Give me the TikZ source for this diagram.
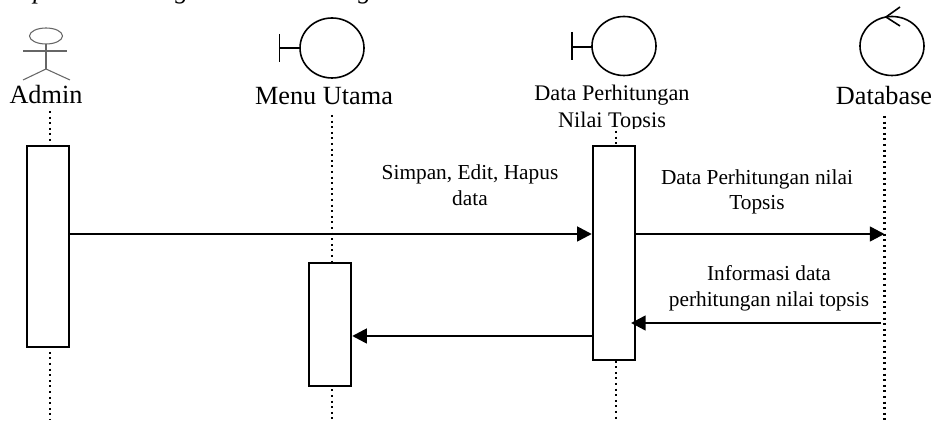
\documentclass[tikz,border=0pt]{standalone}
\usepackage{fontspec}
\setmainfont{Liberation Serif}
\usetikzlibrary{arrows.meta}

\begin{document}
\begin{tikzpicture}[x=0.75pt, y=-0.75pt,
    title/.style = {inner sep=0pt, anchor=base, font=\fontsize{19.7}{23}\selectfont},
    msglabel/.style = {inner sep=0pt, align=center, font=\fontsize{16}{19.3}\selectfont},
    lifeline/.style = {line width=1.6pt, dash pattern=on 1.5pt off 2.7pt},
    bar/.style = {draw, fill=white, line width=1.3pt, minimum width=32pt, inner sep=0pt},
    message/.style = {line width=1.9pt, -{Triangle[length=11pt, width=11pt]}},
    symbol/.style = {line width=1.2pt}]
    \useasboundingbox (0,0) rectangle (936,423);

    % heading cut off by the page edge
    \node (headP) at (40,-1) [anchor=base, inner sep=0pt, font=\fontsize{19.7}{23}\itshape] {p};
    \node (headG) at (182,-1) [anchor=base, inner sep=0pt, font=\fontsize{19.7}{23}\itshape] {g};
    \node (headH) at (365,-1) [anchor=base, inner sep=0pt, font=\fontsize{19.7}{23}\itshape] {g};

    \coordinate (AdminTop) at (50,111);
    \coordinate (AdminEnd) at (50,420);
    \coordinate (MenuTop) at (332,115);
    \coordinate (MenuEnd) at (332,420);
    \coordinate (DataTop) at (616,131);
    \coordinate (DataEnd) at (616,420);
    \coordinate (BaseTop) at (884.5,116);
    \coordinate (BaseEnd) at (884.5,420);

    % actor
    \draw [gray!80!black, line width=0.8pt] (46,36) ellipse (16.5 and 8);
    \draw [gray!80!black, line width=0.8pt] (23,51) -- (67,51);
    \draw [gray!80!black, line width=0.8pt] (46,44) -- (46,69);
    \draw [gray!80!black, line width=0.8pt] (23,80) -- (46,69) -- (70,80);

    % boundary
    \draw [symbol] (332,48) ellipse (32 and 30);
    \draw [symbol] (279.5,34) -- (279.5,62);
    \draw [symbol] (279.5,48) -- (300,48);
    \draw [symbol] (624,46) ellipse (32 and 29.5);
    \draw [symbol] (572,32) -- (572,60);
    \draw [symbol] (572,47) -- (592,47);

    % entity
    \draw [symbol] (892,46) ellipse (32 and 29.5);
    \draw [symbol] (900,7) -- (886,17) -- (900,26);

    \node (AdminName) at (46,104) [title] {Admin};
    \node (MenuName) at (324,105) [title] {Menu Utama};
    \node (BaseName) at (884,105) [title] {Database};
    \node (DataName) at (612,101) [title, font=\fontsize{16.7}{20}\selectfont] {Data Perhitungan};
    \node (DataSub) at (612,128) [title, font=\fontsize{16.7}{20}\selectfont] {Nilai Topsis};
    \fill [white] (560,129.5) rectangle (670,136);

    \draw [lifeline] (AdminTop) -- (AdminEnd);
    \draw [lifeline] (MenuTop) -- (MenuEnd);
    \draw [lifeline] (DataTop) -- (DataEnd);
    \draw [lifeline] (BaseTop) -- (BaseEnd);

    \node (AdminBar) at (48,246.5) [bar, minimum height=150.7pt] {};
    \node (MenuBar) at (330,324.5) [bar, minimum height=92.2pt] {};
    \node (DataBar) at (614,253) [bar, minimum height=160.5pt] {};

    \coordinate (SaveY) at (0,234);
    \coordinate (BackY) at (0,336);

    \draw [message] (AdminBar.east |- SaveY) -- (DataBar.west |- SaveY);
    \draw [message] (DataBar.east |- SaveY) -- (BaseTop |- SaveY);
    \draw [message] (881,323) coordinate (InfoStart) -- (631,323) coordinate (InfoEnd);
    \draw [message] (DataBar.west |- BackY) -- (MenuBar.east |- BackY);

    \node (SaveText) at (470,185.5) [msglabel] {Simpan, Edit, Hapus\\data};
    \node (SendText) at (757,192) [msglabel] {Data Perhitungan nilai\\Topsis};
    \node (InfoText) at (769,288) [msglabel] {Informasi data\\perhitungan nilai topsis};
\end{tikzpicture}
\end{document}
